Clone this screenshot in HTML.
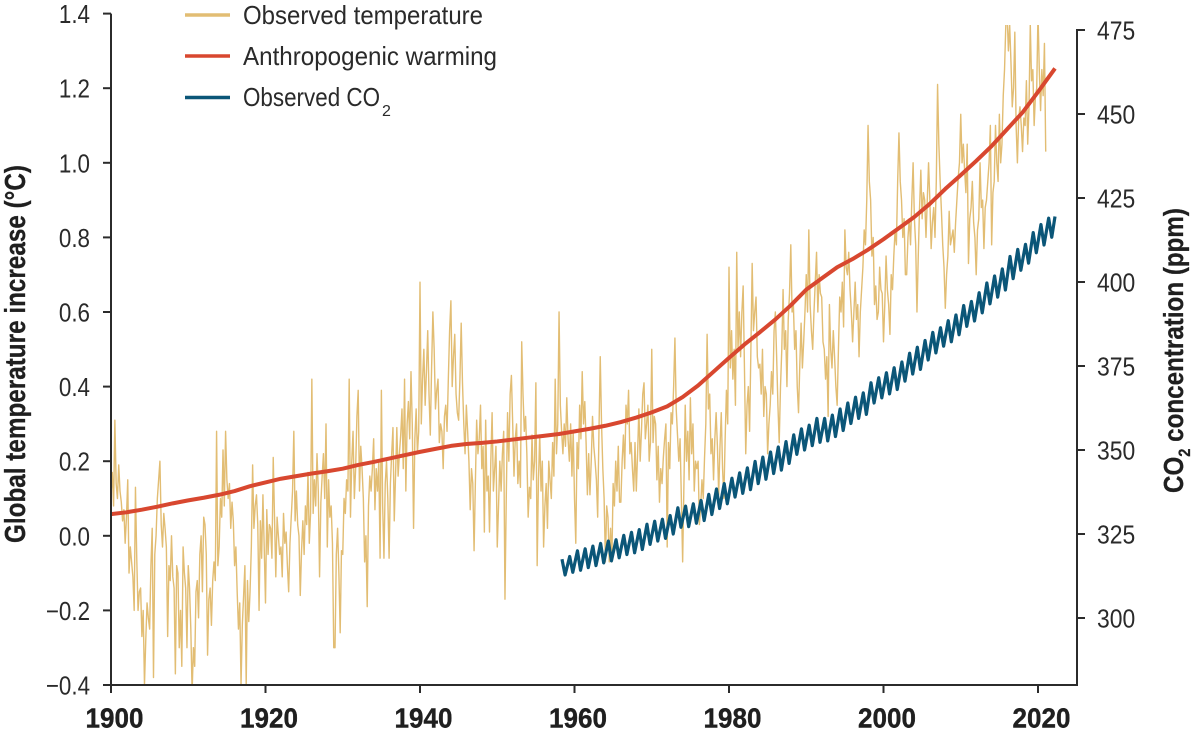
<!DOCTYPE html>
<html lang="en">
<head>
<meta charset="utf-8">
<title>Global temperature and CO2</title>
<style>
  html, body { margin: 0; padding: 0; background: #fff; }
  svg { display: block; font-family: "Liberation Sans", sans-serif; }
  .tick-label { font-size: 26px; fill: #2a2a2a; }
  .year-label { font-size: 28px; font-weight: bold; fill: #1f1f1f; stroke: #1f1f1f; stroke-width: 0.4px; }
  .legend-text { font-size: 26px; fill: #2a2a2a; }
  .axis-title { font-weight: bold; fill: #1f1f1f; stroke: #1f1f1f; stroke-width: 0.3px; }
</style>
</head>
<body>
<svg id="chart" width="1200" height="736" viewBox="0 0 1200 736" xmlns="http://www.w3.org/2000/svg">
  <defs>
    <clipPath id="temp-clip"><rect x="111" y="25" width="966" height="660"></rect></clipPath>
  </defs>
  <g id="series"></g>
  <g id="axes"></g>

  <text class="axis-title" font-size="29" transform="translate(25,543) rotate(-90)" textLength="378" lengthAdjust="spacingAndGlyphs">Global temperature increase (°C)</text>
  <text class="axis-title" font-size="28" transform="translate(1183,493) rotate(-90)" textLength="285" lengthAdjust="spacingAndGlyphs">CO<tspan dy="7" font-size="17">2</tspan><tspan dy="-7"> concentration (ppm)</tspan></text>

  <g>
    <g>
      <line x1="185" x2="230" y1="15" y2="15" stroke="#e2bd73" stroke-width="3.5"></line>
      <text class="legend-text" x="243" y="24" textLength="240" lengthAdjust="spacingAndGlyphs">Observed temperature</text>
    </g>
    <g>
      <line x1="185" x2="230" y1="56" y2="56" stroke="#d8472f" stroke-width="3.5"></line>
      <text class="legend-text" x="243" y="65" textLength="254" lengthAdjust="spacingAndGlyphs">Anthropogenic warming</text>
    </g>
    <g>
      <line x1="185" x2="230" y1="97.5" y2="97.5" stroke="#0b5678" stroke-width="3.5"></line>
      <text class="legend-text" x="243" y="106" textLength="137" lengthAdjust="spacingAndGlyphs">Observed CO</text>
      <text x="382" y="116" font-size="16" fill="#2a2a2a">2</text>
    </g>
  </g>
</svg>
<script>
const xTickYears = [1900, 1920, 1940, 1960, 1980, 2000, 2020];
const tempTicks = [-0.4, -0.2, 0.0, 0.2, 0.4, 0.6, 0.8, 1.0, 1.2, 1.4];
const co2Ticks = [300, 325, 350, 375, 400, 425, 450, 475];

// Observed temperature: six readings per year from 1900, in hundredths of a degree
const tempStartYear = 1900;
const tempPerYear = 6;
const observedTemp = [
  11,17,8,31,14,10, 19,12,9,4,7,-2, 5,15,-10,-3,-7,-11, -20,13,-6,-20,-15,-14, -27,-20,-40,-28,-18,-22,
  -25,-8,2,-38,-5,0, 10,15,20,3,-3,6, 2,-3,-27,-8,-12,0, -11,-14,-37,-8,-10,-30, -20,-35,-3,-10,-14,-30,
  -8,-14,-25,-42,-30,-35, -15,-12,-22,-5,0,-15, 5,3,-5,-32,-17,-14, -24,-12,-7,-12,28,-8, -3,10,5,23,8,28,
  15,10,14,2,9,4, -8,-3,-15,-25,-18,-40, -24,-16,-8,-40,-12,-23, -15,-3,19,2,8,11, 3,-20,4,-6,11,-3,
  -18,7,-5,3,2,-6, 21,5,-11,5,0,-5, -3,-11,6,-2,1,-8, -15,-2,5,12,28,4, 12,3,0,-16,-4,4,
  -5,8,3,17,-2,6, 42,6,15,8,22,12, -11,9,16,22,10,30, -3,15,5,8,-2,-30, -30,-5,2,-10,-26,-4,
  -5,10,6,15,12,42, 5,20,28,10,18,32, 39,12,24,18,10,-7, 0,-19,8,16,12,18, 26,7,18,12,20,-6,
  39,8,-6,14,20,10, -6,14,22,29,4,16, 29,16,22,27,34,18, 42,12,30,36,26,44, 30,2,26,34,22,28,
  68,30,42,50,35,44, 55,38,27,45,60,50, 34,39,42,25,30,28, 18,32,35,28,42,55, 63,40,48,54,38,33,
  31,42,57,41,30,22, 35,28,20,7,18,14, -4,14,31,22,26,35, 18,24,1,31,12,16, 1,20,33,12,18,24,
  -3,8,20,12,22,28, -17,10,33,20,38,43, 30,16,26,30,14,20, 13,52,38,28,32,22, 5,13,10,27,15,20,
  41,-8,15,27,12,20, -3,8,14,2,20,15, 10,25,16,42,22,30, 60,35,28,22,30,24, 37,26,20,30,16,28,
  10,-2,25,18,35,26, 44,30,36,25,11,22, 11,20,32,24,20,15, 5,28,48,30,18,10, -7,8,5,-7,2,-7,
  14,8,20,12,24,9, 9,20,27,18,35,30, 39,22,25,18,12,25, 12,22,34,20,28,38, 41,26,30,35,20,25,
  50,25,32,30,15,24, 9,18,14,21,26,30, -3,25,18,33,30,40, 53,34,27,20,26,10, -7,14,35,20,28,15,
  37,22,30,12,20,18, 20,3,8,15,10,21, 30,54,34,38,22,26, 15,26,33,24,11,24, 33,18,10,26,39,30,
  72,45,55,42,50,35, 76,50,60,48,60,67, 45,22,35,40,28,50, 73,55,60,64,48,45, 46,38,50,32,40,38,
  22,30,35,44,38,55, 60,48,35,25,40,50, 66,50,55,40,58,65, 78,60,62,50,55,40, 33,46,57,45,52,60,
  70,60,82,62,55,50, 60,68,76,60,70,65, 64,52,50,42,48,32, 62,50,45,55,48,40, 35,50,64,60,68,56,
  82,72,70,76,66,60, 52,60,68,58,62,48, 60,66,72,82,78,90, 110,95,90,75,80,62, 67,58,60,72,66,65,
  52,62,75,66,62,54, 70,66,75,82,78,95, 108,95,90,80,85,70, 70,80,85,78,90,100, 85,78,60,75,88,98,
  85,92,90,80,90,100, 90,77,84,88,80,95, 121,105,95,87,78,72, 61,70,75,87,78,80, 82,76,84,90,96,100,
  113,100,105,98,92,105, 73,85,88,95,84,80, 70,82,85,100,88,90, 77,88,90,95,100,110, 78,92,95,110,100,95,
  113,100,105,118,125,137, 140,130,137,127,115,120, 135,110,100,112,115,110, 103,112,110,122,105,115, 137,122,125,110,118,120,
  140,125,114,125,118,132, 103
];

// Anthropogenic warming
const warmingYears = [1900,1902,1904,1906,1908,1910,1912,1914,1916,1918,1920,1922,1924,1926,1928,1930,1932,1934,1936,1938,1940,1942,1944,1946,1948,1950,1952,1954,1956,1958,1960,1962,1964,1966,1968,1970,1972,1974,1976,1978,1980,1982,1984,1986,1988,1990,1992,1994,1996,1998,2000,2002,2004,2006,2008,2010,2012,2014,2016,2018,2020,2022.2];
const warmingValues = [0.058,0.063,0.07,0.078,0.087,0.095,0.102,0.11,0.12,0.133,0.143,0.153,0.16,0.167,0.173,0.18,0.19,0.198,0.207,0.216,0.225,0.233,0.241,0.246,0.249,0.253,0.258,0.263,0.268,0.273,0.28,0.287,0.295,0.305,0.317,0.331,0.347,0.372,0.403,0.44,0.477,0.513,0.546,0.58,0.618,0.66,0.69,0.72,0.742,0.767,0.795,0.825,0.855,0.89,0.93,0.967,1.005,1.045,1.09,1.135,1.19,1.253];

// Observed CO2: yearly seasonal maxima and minima in ppm
const co2Years = [1958,1959,1960,1961,1962,1963,1964,1965,1966,1967,1968,1969,1970,1971,1972,1973,1974,1975,1976,1977,1978,1979,1980,1981,1982,1983,1984,1985,1986,1987,1988,1989,1990,1991,1992,1993,1994,1995,1996,1997,1998,1999,2000,2001,2002,2003,2004,2005,2006,2007,2008,2009,2010,2011,2012,2013,2014,2015,2016,2017,2018,2019,2020,2021,2022];
const co2Peaks = [317.5,318.3,320.0,320.6,321.4,322.2,322.9,323.3,324.6,325.5,326.3,327.9,328.8,329.4,330.5,332.8,333.3,334.0,335.0,336.8,338.4,340.0,341.6,343.2,344.7,346.6,347.9,349.4,350.9,352.5,354.5,356.3,357.4,359.4,359.4,360.4,362.2,364.0,365.7,367.0,370.0,371.5,373.0,374.5,376.2,378.8,380.6,382.6,385.0,386.4,388.5,390.2,393.0,394.2,396.8,399.7,401.8,403.9,407.6,409.7,411.2,414.7,417.1,419.0,419.5];
const co2Troughs = [312.8,313.6,314.2,315.0,315.6,316.4,317.0,317.9,318.9,319.4,320.4,321.9,322.9,323.7,325.0,327.0,327.2,328.2,329.0,330.8,332.6,334.0,336.0,337.1,338.2,340.0,341.3,343.0,344.0,346.0,348.7,350.0,351.3,352.3,352.7,354.0,355.8,357.9,359.4,360.6,364.0,365.5,366.7,368.0,370.5,372.6,374.0,376.8,378.9,380.9,382.2,384.3,386.8,388.4,390.8,393.5,395.5,397.6,401.0,403.5,405.6,408.7,411.0,413.3];

const seasonPeak = 0.38;
const seasonTrough = 0.78;
const finalPeakOffset = 0.2;

function xScale(year) { return 111 + (year - 1900) * 7.725; }
function yTemp(value) { return 535.8 - value * 373; }
function yCo2(ppm) { return 30 + (475 - ppm) * 3.36; }

const NS = 'http://www.w3.org/2000/svg';
const axes = document.getElementById('axes');
const series = document.getElementById('series');

function make(tag, parent, props) {
  const el = document.createElementNS(NS, tag);
  for (const key in props) el.setAttribute(key, props[key]);
  parent.appendChild(el);
  return el;
}
function pathFrom(points) {
  return 'M' + points.map(p => p[0].toFixed(2) + ' ' + p[1].toFixed(2)).join('L');
}

// Observed temperature line
const tempPoints = observedTemp.map((v, i) => [xScale(tempStartYear + i / tempPerYear), yTemp(v / 100)]);
const tempLine = make('path', series, { d: pathFrom(tempPoints), fill: 'none', stroke: '#e2bd73', 'stroke-width': 1.4, 'stroke-linejoin': 'round', 'clip-path': 'url(#temp-clip)' });



// CO2 sawtooth line
const co2Points = [];
co2Years.forEach((year, i) => {
  const isLast = i === co2Years.length - 1;
  co2Points.push([xScale(year + (isLast ? finalPeakOffset : seasonPeak)), yCo2(co2Peaks[i])]);
  if (i < co2Troughs.length) co2Points.push([xScale(year + seasonTrough), yCo2(co2Troughs[i])]);
});
const co2Line = make('path', series, { d: pathFrom(co2Points), fill: 'none', stroke: '#0b5678', 'stroke-width': 3.2, 'stroke-linejoin': 'round' });



// Anthropogenic warming line
const warmingPoints = warmingYears.map((year, i) => [xScale(year), yTemp(warmingValues[i])]);
const warmingLine = make('path', series, { d: pathFrom(warmingPoints), fill: 'none', stroke: '#d8472f', 'stroke-width': 4, 'stroke-linejoin': 'round' });



// Axis lines
const axisColor = '#2b2b2b';
const leftAxis = make('line', axes, { x1: xScale(1900), x2: xScale(1900), y1: yTemp(1.4), y2: yTemp(-0.4) + 8, stroke: axisColor, 'stroke-width': 2 });


const bottomAxis = make('line', axes, { x1: xScale(1900) - 8, x2: 1078, y1: yTemp(-0.4), y2: yTemp(-0.4), stroke: axisColor, 'stroke-width': 2 });


const rightAxis = make('line', axes, { x1: 1077, x2: 1077, y1: yCo2(475) - 1, y2: yTemp(-0.4) + 1, stroke: axisColor, 'stroke-width': 2 });



function squeeze(el, factor) {
  el.setAttribute('textLength', (el.getComputedTextLength() * factor).toFixed(1));
  el.setAttribute('lengthAdjust', 'spacingAndGlyphs');
}

// Temperature ticks
tempTicks.forEach(v => {
  const y = yTemp(v);
  const tick = make('line', axes, { x1: 103, x2: 111, y1: y, y2: y, stroke: axisColor, 'stroke-width': 2 });
  
  
  const label = make('text', axes, { class: 'tick-label', x: 90, y: y + 9.5, 'text-anchor': 'end' });
  
  
  label.textContent = (v < 0 ? '\u2212' : '') + Math.abs(v).toFixed(1);
  squeeze(label, 0.86);
});

// CO2 ticks
co2Ticks.forEach(v => {
  const y = yCo2(v);
  const tick = make('line', axes, { x1: 1077, x2: 1085, y1: y, y2: y, stroke: axisColor, 'stroke-width': 2 });
  
  
  const label = make('text', axes, { class: 'tick-label', x: 1097, y: y + 9.5 });
  
  
  label.textContent = String(v);
  squeeze(label, 0.88);
});

// Year ticks
xTickYears.forEach(year => {
  const x = xScale(year);
  const tick = make('line', axes, { x1: x, x2: x, y1: yTemp(-0.4), y2: yTemp(-0.4) + 8, stroke: axisColor, 'stroke-width': 2 });
  
  
  const label = make('text', axes, { class: 'year-label', x: x + 3.5, y: 727.5, 'text-anchor': 'middle' });
  
  
  label.textContent = String(year);
  squeeze(label, 0.93);
});
</script>
</body>
</html>
